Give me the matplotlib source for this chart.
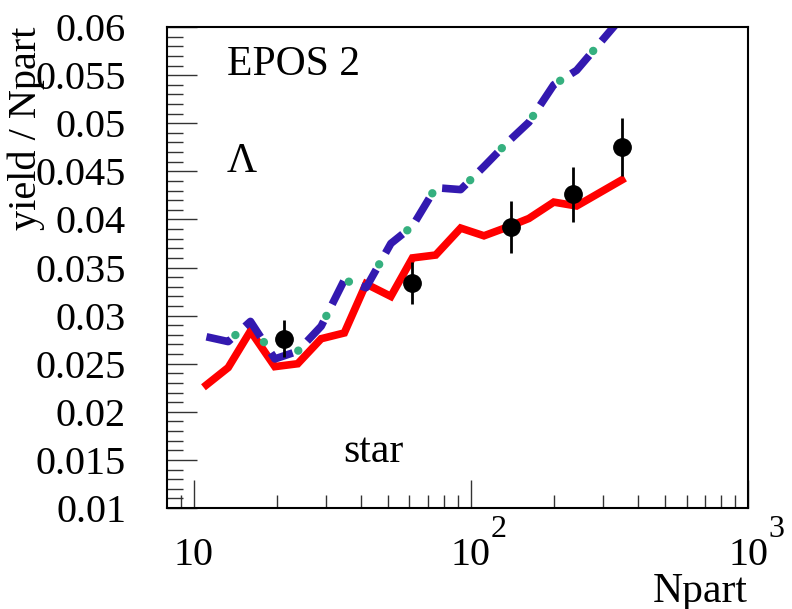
import matplotlib
matplotlib.use("Agg")
import matplotlib.pyplot as plt
from matplotlib.ticker import FixedLocator, MultipleLocator, NullFormatter, FuncFormatter
from matplotlib.transforms import offset_copy

# model curves (EPOS 2), Lambda yield per participant vs Npart
npart_model = [11.1, 13.3, 16.0, 19.6, 23.7, 28.8, 34.9, 41.8, 51.4, 61.5,
               74.6, 91.8, 111.4, 135.3, 161.8, 199.0, 240.6, 350.0]
epos_red = [0.0228, 0.0246, 0.0284, 0.0247, 0.0250, 0.0276, 0.0282, 0.0333, 0.0320,
            0.0360, 0.0363, 0.0391, 0.0383, 0.0392, 0.0401, 0.0418, 0.0414, 0.0441]
epos_dashed = [0.0278, 0.0273, 0.0294, 0.0255, 0.0263, 0.0289, 0.0337, 0.0329, 0.0375,
               0.0393, 0.0433, 0.0431, 0.0455, 0.0480, 0.0501, 0.0540, 0.0555, 0.0610]
epos_dotted = [0.0278, 0.0273, 0.0294, 0.0255, 0.0263, 0.0289, 0.0337, 0.0329, 0.0375,
               0.0393, 0.0433, 0.0431, 0.0455, 0.0480, 0.0501, 0.0540, 0.0555, 0.0610]

# STAR data points
npart_star = [21.1, 61.5, 140.0, 233.0, 350.0]
yield_star = [0.0276, 0.0334, 0.0392, 0.0426, 0.0475]
err_star = [0.0019, 0.0022, 0.0027, 0.0029, 0.0030]

x_ticks = [10, 100, 1000]
x_ticklabels = ['10', '10', '10']
x_exponents = ['', '2', '3']

plt.rcParams['font.family'] = ['Liberation Serif', 'DejaVu Serif']
plt.rcParams['lines.scale_dashes'] = False

fig = plt.figure(figsize=(7.92, 6.09), dpi=100)
ax = fig.add_axes([0.2109, 0.1658, 0.7336, 0.7898])

ax.plot(npart_model, epos_red, color='#ff0000', lw=5.5, solid_joinstyle='miter')
ax.plot(npart_model, epos_dashed, color='#3319b0', lw=5.5,
        linestyle=(0, (18.7, 13.7)), dash_capstyle='butt')
ax.plot(npart_model, epos_dotted, color='#35b07f', lw=6,
        linestyle=(9.4, (0.1, 32.3)), dash_capstyle='round')
ax.errorbar(npart_star, yield_star, yerr=err_star, fmt='o', color='black',
            ms=12.5, elinewidth=2, capsize=0, zorder=5)

ax.set_xscale('log')
ax.set_xlim(8, 1000)
ax.set_ylim(0.01, 0.06)

ax.xaxis.set_major_locator(FixedLocator(x_ticks))
ax.set_xticklabels(x_ticklabels)
ax.xaxis.set_minor_locator(FixedLocator([9, 20, 30, 40, 50, 60, 70, 80, 90,
                                         200, 300, 400, 500, 600, 700, 800, 900]))
ax.xaxis.set_minor_formatter(NullFormatter())
ax.yaxis.set_major_locator(MultipleLocator(0.005))
ax.yaxis.set_minor_locator(MultipleLocator(0.001))
ax.yaxis.set_major_formatter(FuncFormatter(lambda v, p: '%g' % round(v, 4)))

ax.tick_params(axis='both', which='both', direction='in', top=False, right=False,
               width=1, color='#333333')
ax.tick_params(axis='x', which='major', length=20, pad=41, labelsize=29)
ax.tick_params(axis='x', which='minor', length=9.4)
ax.tick_params(axis='y', which='major', length=21.6, pad=29.5, labelsize=29)
ax.tick_params(axis='y', which='minor', length=11.5)
for lab in ax.get_xticklabels():
    lab.set_verticalalignment('baseline')

# exponents of the 10^n labels, ROOT style
sup_tr = offset_copy(ax.get_xaxis_transform(), fig=fig, x=20, y=0, units='dots')
for xt, ex in zip(x_ticks, x_exponents):
    if ex:
        ax.text(xt, -0.0603, ex, transform=sup_tr, fontsize=23,
                ha='left', va='baseline', clip_on=False)

for s in ax.spines.values():
    s.set_linewidth(1.5)

ax.set_xlabel('Npart', fontsize=30, loc='right')
ax.xaxis.label.set_verticalalignment('baseline')
ax.xaxis.set_label_coords(1.0, -0.196)
ax.set_ylabel('yield / Npart', fontsize=29, loc='top')
ax.yaxis.set_label_coords(-0.21, 1.0)

ax.text(0.1028, 0.900, 'EPOS 2', transform=ax.transAxes, fontsize=30, va='baseline')
ax.text(0.1028, 0.6985, 'Λ', transform=ax.transAxes, fontsize=30, va='baseline')
ax.text(0.303, 0.0956, 'star', transform=ax.transAxes, fontsize=30, va='baseline')

fig.savefig('out.png', dpi=100)
